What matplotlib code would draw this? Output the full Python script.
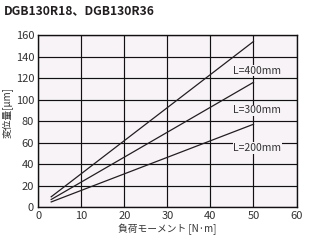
import matplotlib
matplotlib.use("Agg")
import matplotlib.pyplot as plt

# load moment [N*m] vs displacement [um], straight lines
moment = [3, 50]
disp_400 = [9.5, 154]
disp_300 = [7.0, 116]
disp_200 = [4.7, 77]
series_labels = ["L=400mm", "L=300mm", "L=200mm"]
label_pos = [(45.3, 127), (45.3, 90), (45.3, 55)]

x_ticks = [0, 10, 20, 30, 40, 50, 60]
y_ticks = [0, 20, 40, 60, 80, 100, 120, 140, 160]

TEXT = "#333333"
BG = "#f7f3f7"


def main():
    plt.rcParams['font.family'] = ['Liberation Sans Narrow', 'Noto Sans CJK JP', 'DejaVu Sans']
    fig = plt.figure(figsize=(3.1, 2.4), dpi=100)
    ax = fig.add_axes([0.1235, 0.1375, 0.833, 0.7165])
    ax.set_facecolor(BG)

    for ys in (disp_400, disp_300, disp_200):
        ax.plot(moment, ys, color="#231f20", lw=0.9, zorder=3)

    for text, (x, y) in zip(series_labels, label_pos):
        ax.text(x, y, text, fontsize=7.5, color=TEXT, va="center", ha="left",
                bbox=dict(facecolor=BG, edgecolor="none", pad=0.5), zorder=4)

    ax.set_xlim(0, 60)
    ax.set_ylim(0, 160)
    ax.set_xticks(x_ticks)
    ax.set_yticks(y_ticks)
    ax.grid(True, color="#111111", lw=0.85, zorder=1)
    ax.tick_params(length=0, labelsize=8, labelcolor=TEXT, pad=3)
    for s in ax.spines.values():
        s.set_color("#111111")
        s.set_linewidth(1.0)

    ax.set_xlabel("負荷モーメント [N·m]", fontsize=7, color=TEXT,
                  family=['Noto Sans CJK JP', 'DejaVu Sans'], labelpad=2)
    ax.set_ylabel("変位量[μm]", fontsize=7, color=TEXT,
                  family=['Noto Sans CJK JP', 'DejaVu Sans'])
    ax.yaxis.set_label_coords(-0.1, 0.55)

    fig.text(0.013, 0.955, "DGB130R18、DGB130R36", fontsize=8.7, fontweight="bold",
             color="#231f20", va="center", ha="left",
             family=['Noto Sans CJK JP', 'DejaVu Sans'])

    fig.savefig("out.png", dpi=100)


if __name__ == '__main__':
    main()
